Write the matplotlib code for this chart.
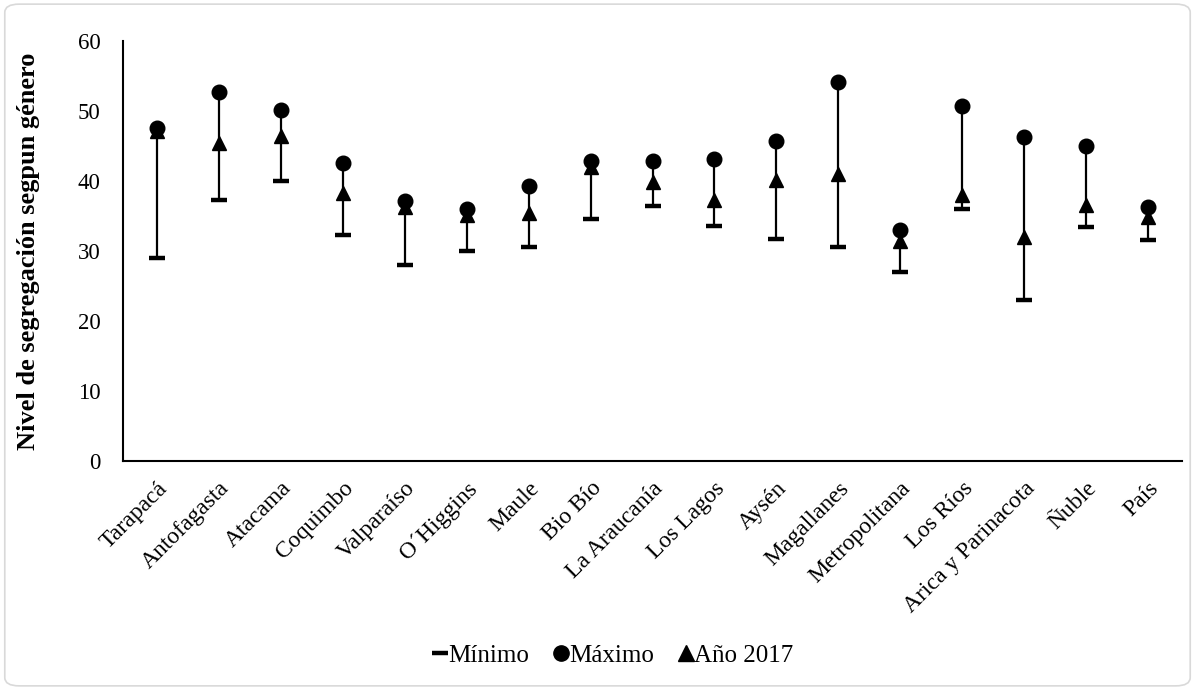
import matplotlib
matplotlib.use("Agg")
import matplotlib.pyplot as plt
from matplotlib.patches import FancyBboxPatch
from matplotlib.lines import Line2D

regiones = ["Tarapacá", "Antofagasta", "Atacama", "Coquimbo", "Valparaíso",
            "O´Higgins", "Maule", "Bio Bío", "La Araucanía", "Los Lagos",
            "Aysén", "Magallanes", "Metropolitana", "Los Ríos",
            "Arica y Parinacota", "Ñuble", "País"]
minimo = [29.0, 37.3, 40.0, 32.3, 28.0, 30.0, 30.6, 34.6, 36.4, 33.6,
          31.7, 30.6, 27.0, 36.0, 23.0, 33.4, 31.6]
maximo = [47.6, 52.7, 50.2, 42.6, 37.2, 36.0, 39.3, 42.9, 42.9, 43.1,
          45.7, 54.1, 33.0, 50.7, 46.3, 45.0, 36.3]
anio_2017 = [47.2, 45.5, 46.5, 38.3, 36.3, 35.2, 35.5, 42.0, 39.9, 37.3,
             40.1, 41.0, 31.5, 38.0, 32.0, 36.6, 34.9]

plt.rcParams['font.family'] = ['Liberation Serif', 'DejaVu Serif']

fig = plt.figure(figsize=(11.95, 6.9), dpi=100)
ax = fig.add_axes([123/1195, 1 - 461/690, (1182-123)/1195, (461-41)/690])

x = list(range(len(regiones)))
ax.vlines(x, minimo, maximo, color='black', lw=1.6, zorder=2)
ax.plot(x, minimo, ls='none', marker='_', ms=11, mew=3.2, color='black', zorder=3)
ax.plot(x, maximo, ls='none', marker='o', ms=10.5, color='black', zorder=3)
ax.plot(x, anio_2017, ls='none', marker='^', ms=10.5, color='black', zorder=4)

ax.set_xlim(-0.55, len(regiones) - 0.45)
ax.set_ylim(0, 60)
ax.set_yticks(range(0, 61, 10))
ax.set_xticks(x)
ax.set_xticklabels(regiones, rotation=45, ha='right', rotation_mode='anchor', fontsize=17)
ax.tick_params(axis='y', labelsize=16.5, length=0, pad=16)
ax.tick_params(axis='x', length=0, pad=12)
for s in ['top', 'right']:
    ax.spines[s].set_visible(False)
for s in ['left', 'bottom']:
    ax.spines[s].set_linewidth(1.5)
ax.set_ylabel("Nivel de segregación segpun género", fontsize=19, fontweight='bold')
ax.yaxis.set_label_coords(-0.078, 0.5)

handles = [
    Line2D([], [], ls='none', marker='_', ms=11, mew=3.2, color='black'),
    Line2D([], [], ls='none', marker='o', ms=11, color='black'),
    Line2D([], [], ls='none', marker='^', ms=11, color='black'),
]
fig.legend(handles, ["Mínimo", "Máximo", "Año 2017"], loc='center',
           bbox_to_anchor=(0.513, 0.05), ncol=3, frameon=False, fontsize=18,
           handlelength=0.55, handletextpad=0.05, columnspacing=1.0)

border = FancyBboxPatch((0.004, 0.006), 0.992, 0.988, boxstyle="round,pad=0,rounding_size=0.012",
                        transform=fig.transFigure, fill=False, edgecolor='#d9d9d9', lw=1.2)
fig.patches.append(border)

fig.savefig("out.png", dpi=100)
